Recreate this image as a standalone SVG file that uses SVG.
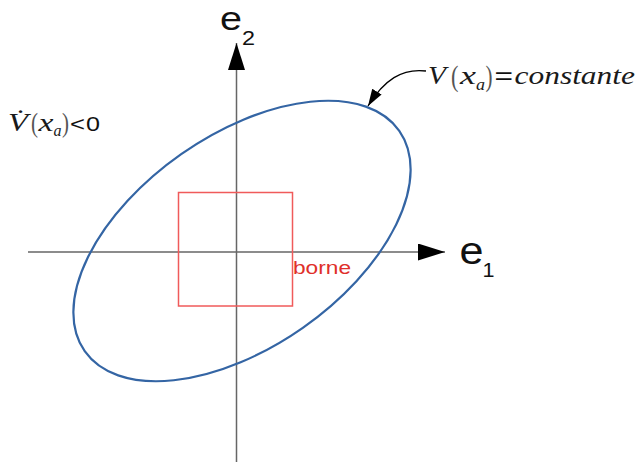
<svg xmlns="http://www.w3.org/2000/svg" width="637" height="462" viewBox="0 0 637 462">
  <style>
    .axis { stroke: #666666; stroke-width: 1.5; fill: none; }
    .ser { font-family: "Liberation Serif", serif; font-style: italic; fill: #1a1a1a; }
    .par { font-family: "Liberation Serif", serif; fill: #555555; }
    .sans { font-family: "Liberation Sans", Arial, sans-serif; fill: #111111; }
  </style>
  <defs>
    <marker id="axisHead" markerUnits="userSpaceOnUse" markerWidth="28" markerHeight="18" refX="27" refY="8.5" orient="auto">
      <path d="M0,0 L27,8.5 L0,17 z" fill="#000000"/>
    </marker>
    <marker id="callHead" markerUnits="userSpaceOnUse" markerWidth="18" markerHeight="12" refX="17" refY="5.5" orient="auto">
      <path d="M0,0 L17,5.5 L0,11 z" fill="#000000"/>
    </marker>
  </defs>
  <rect width="637" height="462" fill="#ffffff"/>

  <g id="axis-e1">
    <line class="axis" x1="28" y1="252" x2="445" y2="252" marker-end="url(#axisHead)"/>
    <text class="sans" x="459.5" y="264" font-size="38" textLength="24" lengthAdjust="spacingAndGlyphs">e</text>
    <text class="sans" x="482.5" y="277" font-size="20" textLength="12" lengthAdjust="spacingAndGlyphs">1</text>
  </g>

  <g id="axis-e2">
    <line class="axis" x1="236.5" y1="462" x2="236.5" y2="43" marker-end="url(#axisHead)"/>
    <text class="sans" x="220" y="30" font-size="33" textLength="22" lengthAdjust="spacingAndGlyphs">e</text>
    <text class="sans" x="242" y="45" font-size="20" textLength="13" lengthAdjust="spacingAndGlyphs">2</text>
  </g>

  <g id="ellipse-V">
    <ellipse cx="242" cy="241" rx="192" ry="106" transform="rotate(-35 242 241)" fill="none" stroke="#3465a4" stroke-width="2.2"/>
  </g>

  <g id="borne">
    <rect x="178.5" y="192.5" width="114" height="113.5" fill="none" stroke="#f05a5a" stroke-width="1.5"/>
    <text class="sans" x="293" y="274" font-size="18.3" style="fill:#e0302a" textLength="58" lengthAdjust="spacingAndGlyphs">borne</text>
  </g>

  <g id="label-vdot">
    <text class="ser" x="8" y="131" font-size="25" textLength="20" lengthAdjust="spacingAndGlyphs">V̇</text>
    <text class="par" x="31" y="132" font-size="27" textLength="7" lengthAdjust="spacingAndGlyphs">(</text>
    <text class="ser" x="38.5" y="131" font-size="25" textLength="15" lengthAdjust="spacingAndGlyphs">x</text>
    <text class="ser" x="53.5" y="136" font-size="16" textLength="8" lengthAdjust="spacingAndGlyphs">a</text>
    <text class="par" x="62" y="132" font-size="27" textLength="7" lengthAdjust="spacingAndGlyphs">)</text>
    <text class="sans" x="70" y="131" font-size="21" textLength="15" lengthAdjust="spacingAndGlyphs">&lt;</text>
    <text class="sans" x="86" y="131" font-size="21" textLength="14" lengthAdjust="spacingAndGlyphs">0</text>
  </g>

  <g id="label-V">
    <text class="ser" x="428" y="84.3" font-size="26" textLength="18" lengthAdjust="spacingAndGlyphs">V</text>
    <text class="par" x="451" y="86" font-size="29" textLength="7.5" lengthAdjust="spacingAndGlyphs">(</text>
    <text class="ser" x="460" y="84.3" font-size="26" textLength="16" lengthAdjust="spacingAndGlyphs">x</text>
    <text class="ser" x="476" y="90" font-size="17" textLength="9" lengthAdjust="spacingAndGlyphs">a</text>
    <text class="par" x="485.5" y="86" font-size="29" textLength="7" lengthAdjust="spacingAndGlyphs">)</text>
    <text class="sans" x="494.5" y="84.3" font-size="24" textLength="18.5" lengthAdjust="spacingAndGlyphs">=</text>
    <text class="ser" x="514.5" y="84.3" font-size="26" textLength="120.5" lengthAdjust="spacingAndGlyphs">constante</text>
  </g>

  <g id="connectors">
    <path d="M426,71 C402,68 384,80 368,106" fill="none" stroke="#000000" stroke-width="1.3" marker-end="url(#callHead)"/>
  </g>
</svg>
